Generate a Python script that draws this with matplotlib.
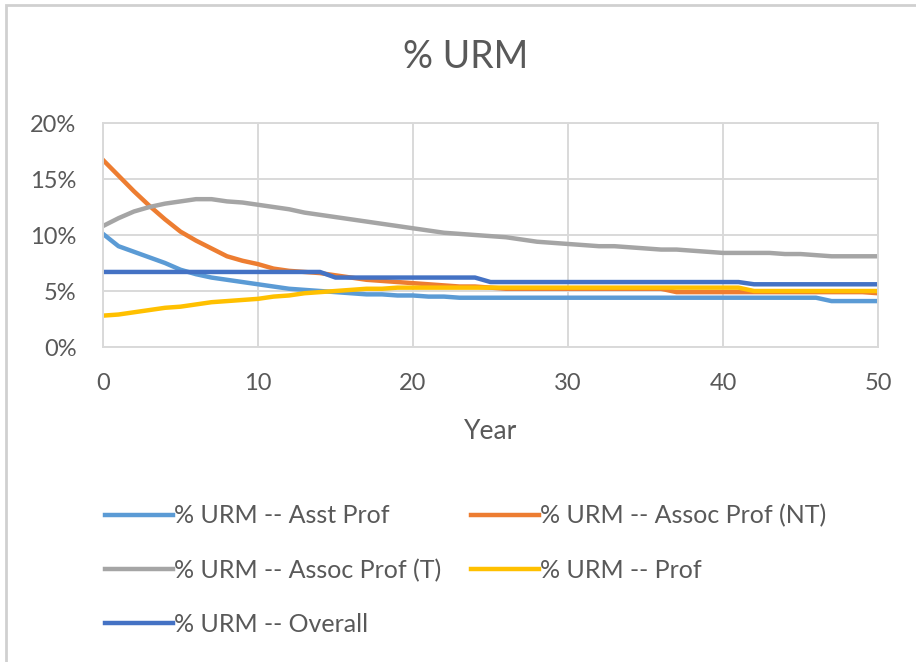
import matplotlib.pyplot as plt
from matplotlib.ticker import PercentFormatter
from matplotlib.patches import Rectangle

plt.rcParams['font.family'] = ['Lato', 'DejaVu Sans']

years = list(range(51))

# % URM per rank (percent)
asst = [10.1, 9.0, 8.5, 8.0, 7.5, 6.9, 6.5, 6.2, 6.0, 5.8,
        5.6, 5.4, 5.2, 5.1, 5.0, 4.9, 4.8, 4.7, 4.7, 4.6,
        4.6, 4.5, 4.5, 4.4, 4.4, 4.4, 4.4, 4.4, 4.4, 4.4,
        4.4, 4.4, 4.4, 4.4, 4.4, 4.4, 4.4, 4.4, 4.4, 4.4,
        4.4, 4.4, 4.4, 4.4, 4.4, 4.4, 4.4, 4.1, 4.1, 4.1, 4.1]
assoc_nt = [16.7, 15.3, 13.9, 12.6, 11.4, 10.3, 9.5, 8.8, 8.1, 7.7,
            7.4, 7.0, 6.8, 6.7, 6.6, 6.4, 6.2, 6.0, 5.9, 5.8,
            5.7, 5.6, 5.5, 5.4, 5.4, 5.3, 5.2, 5.2, 5.2, 5.2,
            5.2, 5.2, 5.2, 5.2, 5.2, 5.2, 5.2, 4.9, 4.9, 4.9,
            4.9, 4.9, 4.9, 4.9, 4.9, 4.9, 4.9, 4.9, 4.9, 4.9, 4.8]
assoc_t = [10.8, 11.5, 12.1, 12.5, 12.8, 13.0, 13.2, 13.2, 13.0, 12.9,
           12.7, 12.5, 12.3, 12.0, 11.8, 11.6, 11.4, 11.2, 11.0, 10.8,
           10.6, 10.4, 10.2, 10.1, 10.0, 9.9, 9.8, 9.6, 9.4, 9.3,
           9.2, 9.1, 9.0, 9.0, 8.9, 8.8, 8.7, 8.7, 8.6, 8.5,
           8.4, 8.4, 8.4, 8.4, 8.3, 8.3, 8.2, 8.1, 8.1, 8.1, 8.1]
prof = [2.8, 2.9, 3.1, 3.3, 3.5, 3.6, 3.8, 4.0, 4.1, 4.2,
        4.3, 4.5, 4.6, 4.8, 4.9, 5.0, 5.1, 5.2, 5.2, 5.3,
        5.3, 5.3, 5.3, 5.3, 5.3, 5.3, 5.3, 5.3, 5.3, 5.3,
        5.3, 5.3, 5.3, 5.3, 5.3, 5.3, 5.3, 5.3, 5.3, 5.3,
        5.3, 5.3, 5.0, 5.0, 5.0, 5.0, 5.0, 5.0, 5.0, 5.0, 5.0]
overall = [6.7] * 15 + [6.2] * 10 + [5.8] * 17 + [5.6] * 9

labels = ['% URM -- Asst Prof', '% URM -- Assoc Prof (NT)',
          '% URM -- Assoc Prof (T)', '% URM -- Prof', '% URM -- Overall']
colors = ['#5B9BD5', '#ED7D31', '#A5A5A5', '#FFC000', '#4472C4']
series = [asst, assoc_nt, assoc_t, prof, overall]

txt = '#595959'
fig = plt.figure(figsize=(9.16, 6.62), dpi=100)
ax = fig.add_axes([103 / 916, 1 - 347 / 662, 775 / 916, 224 / 662])

lines = []
for s, c, lab in zip(series, colors, labels):
    ln, = ax.plot(years, s, color=c, lw=3.2, label=lab, solid_joinstyle='round')
    lines.append(ln)

ax.set_xlim(0, 50)
ax.set_ylim(0, 20)
ax.set_xticks(range(0, 51, 10))
ax.set_yticks(range(0, 21, 5))
ax.yaxis.set_major_formatter(PercentFormatter(decimals=0))
ax.grid(color='#d9d9d9', lw=1.4)
ax.set_axisbelow(True)
for sp in ax.spines.values():
    sp.set_color('#d9d9d9')
    sp.set_linewidth(1.4)
ax.tick_params(length=0, labelsize=17, colors=txt)
ax.tick_params(axis='x', pad=19)
ax.tick_params(axis='y', pad=19)
ax.set_xlabel('Year', fontsize=19, color=txt, labelpad=18)

fig.text(466 / 916, 1 - 57 / 662, '% URM', ha='center', va='center',
         fontsize=27, color=txt)

# legend: column-major order so rows read Asst/NT, T/Prof, Overall
order = [0, 2, 4, 1, 3]
fig.legend([lines[i] for i in order], [labels[i] for i in order],
           loc='upper left', bbox_to_anchor=(105 / 916, 1 - 504 / 662),
           ncol=2, frameon=False, fontsize=18, labelcolor=txt,
           borderpad=0, borderaxespad=0,
           handlelength=2.7, handletextpad=0.05, columnspacing=1.2,
           labelspacing=1.25)

fig.patches.append(Rectangle((6 / 916, -0.1), 1.2, 1.1 - 5 / 662,
                             transform=fig.transFigure, fill=False,
                             ec='#d0d0d0', lw=2))

fig.savefig('out.png', dpi=100)
